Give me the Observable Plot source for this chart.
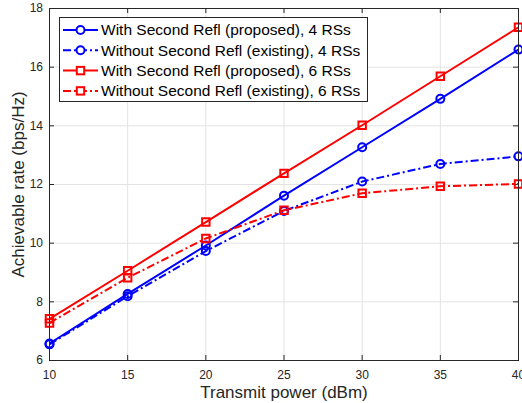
<!DOCTYPE html>
<html>
<head>
<meta charset="utf-8">
<script src="https://cdn.jsdelivr.net/npm/d3@7"></script>
<script src="https://cdn.jsdelivr.net/npm/@observablehq/plot@0.6"></script>
<style>
  html, body { margin: 0; padding: 0; background: #fff; }
  #chart svg { display: block; font-family: "Liberation Sans", Arial, Helvetica, sans-serif; }
</style>
</head>
<body>
<div id="chart"></div>
<script>
// ---- data ----
const power = [10, 15, 20, 25, 30, 35, 40];
const with4 = [6.58, 8.27, 9.92, 11.62, 13.27, 14.92, 16.60];
const without4 = [6.55, 8.19, 9.73, 11.10, 12.10, 12.70, 12.96];
const with6 = [7.42, 9.06, 10.72, 12.38, 14.02, 15.69, 17.36];
const without6 = [7.28, 8.82, 10.16, 11.12, 11.70, 11.94, 12.02];

const xTicks = [10, 15, 20, 25, 30, 35, 40];
const yTicks = [6, 8, 10, 12, 14, 16, 18];
const xDomain = [10, 40];
const yDomain = [6, 18];

const seriesNames = [
  "With Second Refl (proposed), 4 RSs",
  "Without Second Refl (existing), 4 RSs",
  "With Second Refl (proposed), 6 RSs",
  "Without Second Refl (existing), 6 RSs"
];
const seriesValues = [with4, without4, with6, without6];
const seriesColors = ["#0000ff", "#0000ff", "#ff0000", "#ff0000"];
const seriesDash = [null, "8,3,2,3", null, "8,3,2,3"];
const seriesSymbol = ["circle", "circle", "square", "square"];

const toRows = (vals) => power.map((p, i) => ({x: p, y: vals[i]}));

const axisColor = "#262626";
const gridColor = "#e3e3e3";

const marks = [
  Plot.ruleX(xTicks.slice(1, -1), {stroke: gridColor, strokeWidth: 1}),
  Plot.ruleY(yTicks.slice(1, -1), {stroke: gridColor, strokeWidth: 1}),
  // inward ticks
  Plot.ruleX(xTicks, {x: d => d, y1: yDomain[0], y2: yDomain[0], insetTop: -5, stroke: axisColor}),
  Plot.ruleX(xTicks, {x: d => d, y1: yDomain[1], y2: yDomain[1], insetBottom: -5, stroke: axisColor}),
  Plot.ruleY(yTicks, {y: d => d, x1: xDomain[0], x2: xDomain[0], insetRight: -5, stroke: axisColor}),
  Plot.ruleY(yTicks, {y: d => d, x1: xDomain[1], x2: xDomain[1], insetLeft: -5, stroke: axisColor}),
  Plot.axisX({ticks: xTicks, tickSize: 0, tickPadding: 9.5, fontSize: 12, color: axisColor, label: null}),
  Plot.axisY({ticks: yTicks, tickSize: 0, tickPadding: 6.5, fontSize: 12, color: axisColor, label: null}),
];

seriesValues.forEach((vals, i) => {
  const rows = toRows(vals);
  marks.push(Plot.line(rows, {x: "x", y: "y", stroke: seriesColors[i], strokeWidth: 2,
    strokeDasharray: seriesDash[i] || undefined, strokeLinecap: "butt"}));
  marks.push(Plot.dot(rows, {x: "x", y: "y", stroke: seriesColors[i], strokeWidth: 2,
    symbol: seriesSymbol[i], r: seriesSymbol[i] === "circle" ? 4 : 4.2, fill: "none"}));
});

marks.push(Plot.frame({stroke: axisColor, strokeWidth: 1}));
marks.push(Plot.text(["Achievable rate (bps/Hz)"], {frameAnchor: "left", textAnchor: "middle", lineAnchor: "middle", rotate: -90, dx: -30.5, fontSize: 17, fill: axisColor}));
marks.push(Plot.text(["Transmit power (dBm)"], {frameAnchor: "bottom", textAnchor: "middle", lineAnchor: "middle", dy: 32.5, fontSize: 17, fill: axisColor}));

const chart = Plot.plot({
  width: 522,
  height: 403,
  marginLeft: 49,
  marginRight: 4,
  marginTop: 8,
  marginBottom: 43,
  style: {background: "#fff", fontFamily: "'Liberation Sans', Arial, Helvetica, sans-serif"},
  x: {domain: xDomain},
  y: {domain: yDomain},
  marks
});

document.getElementById("chart").appendChild(chart);

// ---- legend (inside plot area, top-left) ----
const svg = d3.select(chart);
const lg = svg.append("g").attr("class", "legend").attr("text-anchor", "start");
const box = {x: 59.5, y: 17.5, w: 308, h: 84};
lg.append("rect").attr("x", box.x).attr("y", box.y).attr("width", box.w).attr("height", box.h)
  .attr("fill", "#fff").attr("stroke", axisColor).attr("stroke-width", 1);
seriesNames.forEach((name, i) => {
  const cy = 30 + i * 20.3;
  lg.append("line").attr("x1", 63).attr("x2", 98).attr("y1", cy).attr("y2", cy)
    .attr("stroke", seriesColors[i]).attr("stroke-width", 2)
    .attr("stroke-dasharray", seriesDash[i] || null);
  if (seriesSymbol[i] === "circle") {
    lg.append("circle").attr("cx", 80.5).attr("cy", cy).attr("r", 4)
      .attr("fill", "#fff").attr("stroke", seriesColors[i]).attr("stroke-width", 2);
  } else {
    lg.append("rect").attr("x", 80.5 - 3.7).attr("y", cy - 3.7).attr("width", 7.4).attr("height", 7.4)
      .attr("fill", "#fff").attr("stroke", seriesColors[i]).attr("stroke-width", 2);
  }
  lg.append("text").attr("x", 101).attr("y", cy).attr("dy", "0.35em").attr("text-anchor", "start")
    .attr("font-size", 15.5).attr("fill", "#000").text(name);
});
</script>
</body>
</html>
